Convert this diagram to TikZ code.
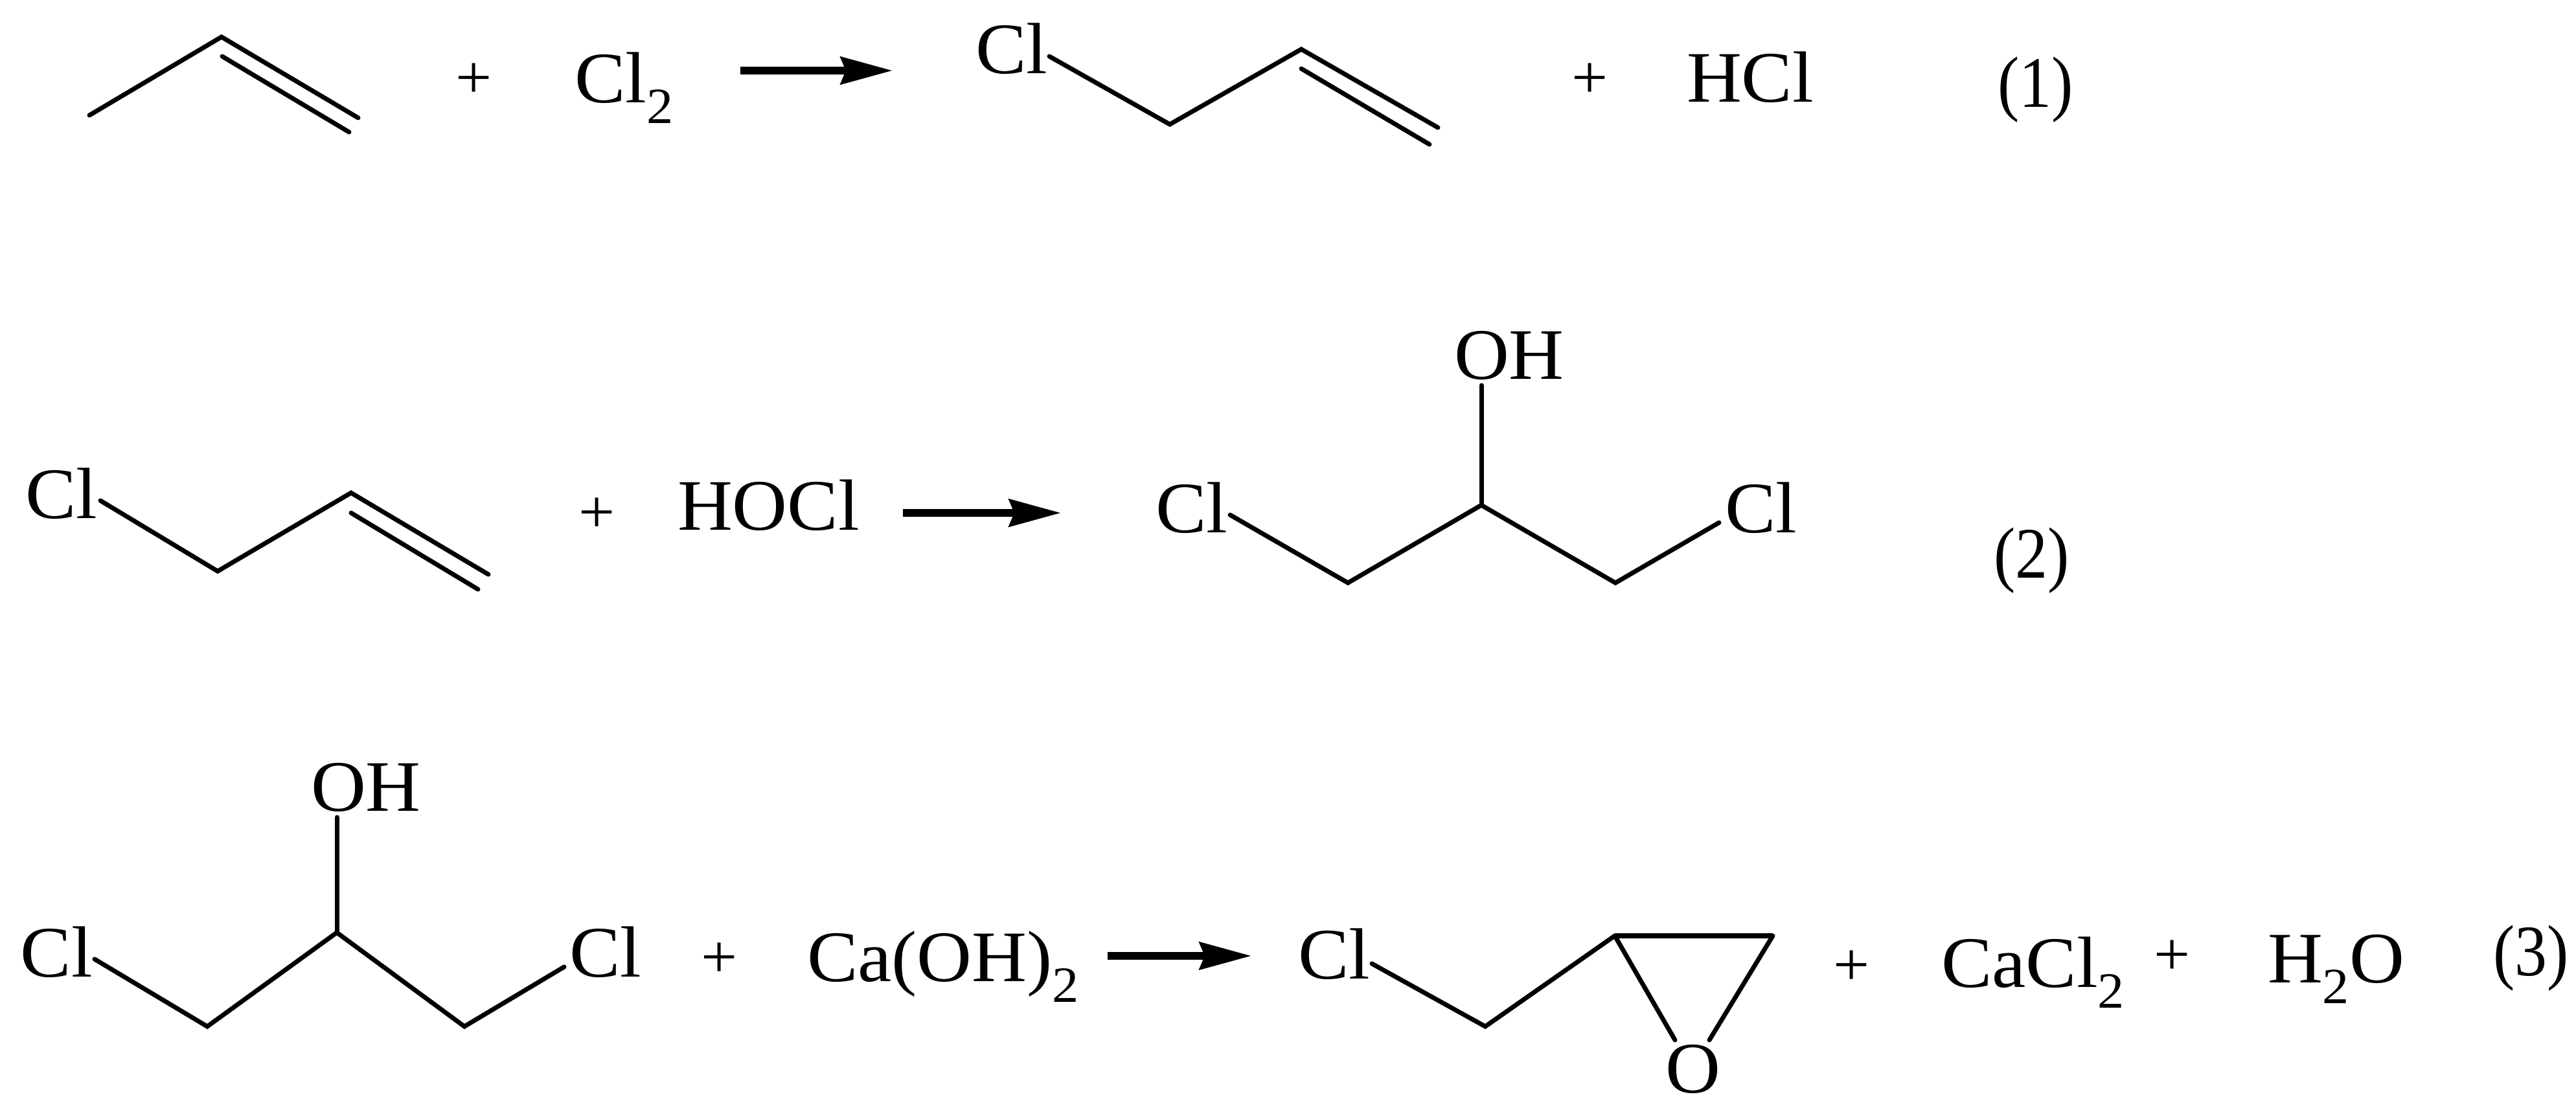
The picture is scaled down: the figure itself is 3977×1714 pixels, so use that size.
\documentclass[tikz,border=0pt]{standalone}
\usepackage{fontspec}
\setmainfont[FakeStretch=1.05]{Liberation Serif}
\usetikzlibrary{arrows.meta}
\newcommand{\subdigit}[1]{\raisebox{-8.2pt}{\fontsize{19.6}{20}\selectfont #1}}
\newcommand{\eqnum}[1]{\scalebox{.85}[1]{(#1)}}
\tikzset{
  chem/.style={anchor=base west,inner sep=0pt,outer sep=0pt,font=\fontsize{28}{30}\selectfont},
  plussign/.style={anchor=center,inner sep=0pt,outer sep=0pt,font=\fontsize{23.7}{26}\selectfont},
  bond/.style={line width=1.75pt,line cap=round,line join=miter,miter limit=10},
  thickbond/.style={line width=2.2pt,line cap=butt},
  rxn/.style={line width=2.8pt,-{Stealth[length=20pt,width=10.5pt,inset=2pt]}}
}
\begin{document}
\begin{tikzpicture}[x=.25pt,y=-.25pt]
\useasboundingbox (0,0) rectangle (3977,1714);
% ---- reaction 1
\coordinate (a1) at (138,178); \coordinate (a2) at (342,57); \coordinate (a3) at (553,182);
\coordinate (a4) at (343,87); \coordinate (a5) at (539,204);
\draw[bond] (a1) -- (a2) -- (a3);
\draw[bond] (a4) -- (a5);
\node[plussign] (p1) at (732,125) {+};
\node[chem] (cl2a) at (887,158) {Cl\subdigit{2}};
\coordinate (ar1s) at (1143,109); \coordinate (ar1e) at (1378,109);
\draw[rxn] (ar1s) -- (ar1e);
\node[chem] (b0) at (1506,113) {Cl};
\coordinate (b1) at (1620,87); \coordinate (b2) at (1806,192); \coordinate (b3) at (2009,76); \coordinate (b4) at (2220,197);
\coordinate (b5) at (2009,106); \coordinate (b6) at (2207,223);
\draw[bond] (b1) -- (b2) -- (b3) -- (b4);
\draw[bond] (b5) -- (b6);
\node[plussign] (p2) at (2455,125) {+};
\node[chem] (hcl) at (2604,157) {HCl};
\node[chem] (n1) at (3084,165) {\eqnum{1}};
% ---- reaction 2
\node[chem] (c0) at (39,800) {Cl};
\coordinate (c1) at (155,773); \coordinate (c2) at (336,882); \coordinate (c3) at (542,761); \coordinate (c4) at (754,887);
\coordinate (c5) at (542,792); \coordinate (c6) at (738,910);
\draw[bond] (c1) -- (c2) -- (c3) -- (c4);
\draw[bond] (c5) -- (c6);
\node[plussign] (p3) at (922,796) {+};
\node[chem] (hocl) at (1046,818) {HOCl};
\coordinate (ar2s) at (1394,792); \coordinate (ar2e) at (1638,792);
\draw[rxn] (ar2s) -- (ar2e);
\node[chem] (d0) at (1784,822) {Cl};
\node[chem] (doh) at (2245,585) {OH};
\node[chem] (d9) at (2663,822) {Cl};
\coordinate (d1) at (1899,795); \coordinate (d2) at (2081,900); \coordinate (d3) at (2287,780); \coordinate (d4) at (2494,900); \coordinate (d5) at (2654,807);
\coordinate (d6) at (2287,595);
\draw[bond] (d1) -- (d2) -- (d3) -- (d4) -- (d5);
\draw[bond] (d6) -- (d3);
\node[chem] (n2) at (3078,892) {\eqnum{2}};
% ---- reaction 3
\node[chem] (e0) at (32,1508) {Cl};
\node[chem] (eoh) at (480,1252) {OH};
\node[chem] (e9) at (879,1508) {Cl};
\coordinate (e1) at (146,1481); \coordinate (e2) at (320,1585); \coordinate (e3) at (520,1440); \coordinate (e4) at (717,1585); \coordinate (e5) at (871,1493);
\coordinate (e6) at (520,1262);
\draw[bond] (e1) -- (e2) -- (e3) -- (e4) -- (e5);
\draw[bond] (e6) -- (e3);
\node[plussign] (p4) at (1111,1483) {+};
\node[chem] (caoh) at (1246,1515) {Ca(OH)\subdigit{2}};
\coordinate (ar3s) at (1710,1476); \coordinate (ar3e) at (1932,1476);
\draw[rxn] (ar3s) -- (ar3e);
\node[chem] (f0) at (2004,1511) {Cl};
\coordinate (f1) at (2118,1488); \coordinate (f2) at (2293,1585); \coordinate (f3) at (2493,1445); \coordinate (f4) at (2737,1445);
\coordinate (f5) at (2586,1606); \coordinate (f6) at (2639,1606);
\draw[bond] (f1) -- (f2) -- (f3);
\draw[thickbond] (f3) -- (f4);
\draw[bond] (f3) -- (f5);
\draw[bond] (f4) -- (f6);
\node[chem] (fo) at (2571,1687) {O};
\node[plussign] (p5) at (2859,1495) {+};
\node[chem] (cacl) at (2997,1524) {CaCl\subdigit{2}};
\node[plussign] (p6) at (3354,1479) {+};
\node[chem] (h2o) at (3501,1517) {H\subdigit{2}O};
\node[chem] (n3) at (3849,1506) {\eqnum{3}};
\end{tikzpicture}
\end{document}
